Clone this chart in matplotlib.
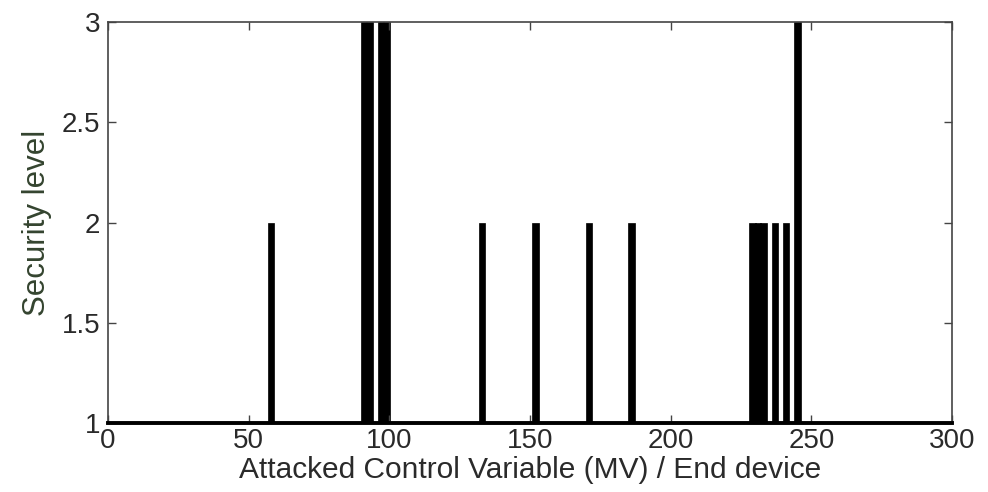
import numpy as np
import matplotlib.pyplot as plt

plt.rcParams["font.family"] = ["Liberation Sans", "DejaVu Sans"]

# attacked MV index and the security level it reaches (only levels > 1 are visible)
mv_index = [58, 91, 93, 97, 99, 133, 152, 171, 186, 229, 231, 233, 237, 241, 245]
security_level = [2, 3, 3, 3, 3, 2, 2, 2, 2, 2, 2, 2, 2, 2, 3]

x_ticks = [0, 50, 100, 150, 200, 250, 300]
y_ticks = [1, 1.5, 2, 2.5, 3]
y_tick_labels = ["1", "1.5", "2", "2.5", "3"]

fig = plt.figure(figsize=(9.88, 4.92), dpi=100)
ax = fig.add_axes([0.1093, 0.1402, 0.8543, 0.8151])

ax.bar(mv_index, security_level, width=2.3, color="black", edgecolor="black",
       linewidth=0.5)

ax.set_xlim(0, 300)
ax.set_ylim(1, 3)
ax.set_xticks(x_ticks)
ax.set_yticks(y_ticks)
ax.set_yticklabels(y_tick_labels)

ax.tick_params(direction="in", length=6, width=1, top=True, right=True,
               labelsize=20, labelcolor="#2a2a2a", color="#444444")
ax.tick_params(axis="y", pad=5.5)
ax.tick_params(axis="x", pad=3.5)

for side in ["top", "left", "right"]:
    ax.spines[side].set_linewidth(1.2)
    ax.spines[side].set_color("#444444")
ax.spines["bottom"].set_linewidth(2.8)
ax.spines["bottom"].set_color("black")

ax.set_xlabel("Attacked Control Variable (MV) / End device", fontsize=21.5,
              color="#2a2a2a", labelpad=1.5)
ax.set_ylabel("Security level", fontsize=22.5, color="#34442f", labelpad=7)

fig.savefig("out.png", dpi=100)
